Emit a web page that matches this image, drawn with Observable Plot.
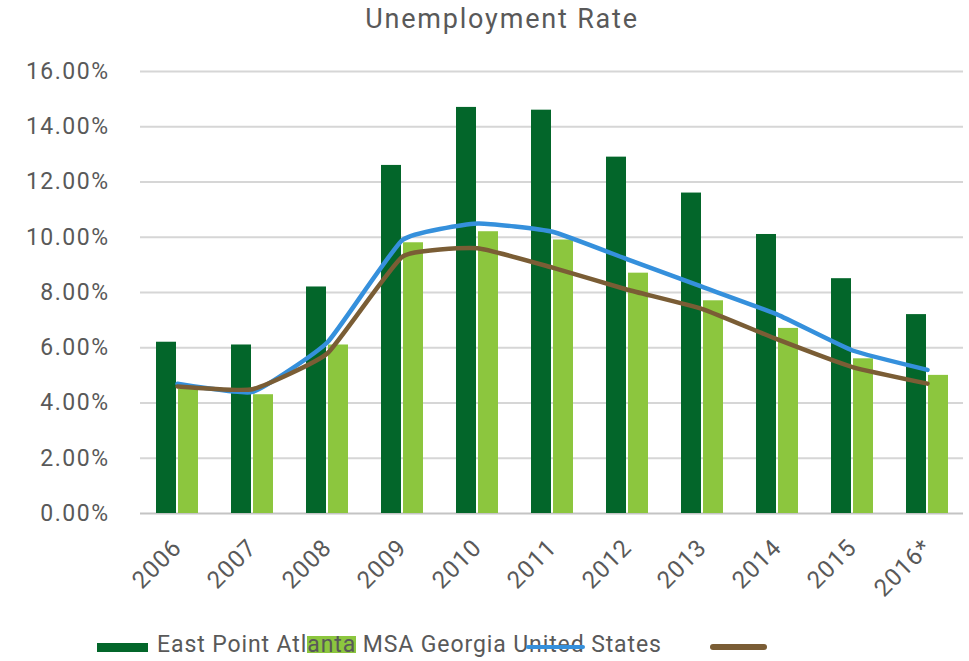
<!DOCTYPE html>
<html>
<head>
<meta charset="utf-8">
<script src="https://cdn.jsdelivr.net/npm/d3@7"></script>
<script src="https://cdn.jsdelivr.net/npm/@observablehq/plot@0.6"></script>
<style>
  html, body { margin: 0; padding: 0; background: #fff; }
  body { width: 969px; height: 661px; position: relative; overflow: hidden; font-family: Roboto, "Liberation Sans", sans-serif; color: #595959; }
  #title { position: absolute; top: 3px; left: 502px; transform: translateX(-50%); font-size: 27px; letter-spacing: 1.8px; white-space: nowrap; }
  #chart { position: absolute; top: 50px; left: 0; }
  #legend { position: absolute; left: 0; top: 0; width: 969px; height: 661px; pointer-events: none; }
  .sw { position: absolute; }
  #legtext { position: absolute; left: 157px; top: 631px; font-size: 23px; letter-spacing: 0.9px; white-space: nowrap; line-height: 28px; }
  .hl { background: linear-gradient(to bottom, transparent 20%, #8cc63e 20%, #8cc63e 82%, transparent 82%); }
  .ln { position: relative; }
  .ln i { position: absolute; left: -3px; right: 0; top: 14px; height: 4px; background: #3590dc; border-radius: 2px; }
</style>
</head>
<body>
<div id="title">Unemployment Rate</div>
<div id="chart"></div>
<div id="legend">
  <div class="sw" style="left:97px;top:643px;width:51px;height:9px;background:#03662a"></div>
  <div id="legtext">East Point Atl<span class="hl">anta</span> MSA Georgia U<span class="ln">nited<i></i></span> States</div>
  <div class="sw" style="left:710px;top:644px;width:57px;height:6px;background:#7a5d35;border-radius:3px"></div>
</div>
<script>
const years = ["2006", "2007", "2008", "2009", "2010", "2011", "2012", "2013", "2014", "2015", "2016*"];
const eastPoint = [6.2, 6.1, 8.2, 12.6, 14.7, 14.6, 12.9, 11.6, 10.1, 8.5, 7.2];
const atlantaMSA = [4.5, 4.3, 6.1, 9.8, 10.2, 9.9, 8.7, 7.7, 6.7, 5.6, 5.0];
const georgia = [4.7, 4.4, 6.2, 9.9, 10.5, 10.2, 9.2, 8.2, 7.2, 5.9, 5.2];
const unitedStates = [4.6, 4.5, 5.8, 9.3, 9.6, 8.9, 8.1, 7.4, 6.3, 5.3, 4.7];
const yTicks = [0, 2, 4, 6, 8, 10, 12, 14, 16];

const rows = (vals) => years.map((year, i) => ({year, value: vals[i]}));
const fmt = d => d.toFixed(2) + "%";

const plot = Plot.plot({
  width: 969,
  height: 560,
  marginTop: 21,
  marginBottom: 97,
  marginLeft: 140,
  marginRight: 6,
  style: {color: "#595959", fontFamily: "Roboto, 'Liberation Sans', sans-serif", background: "#fff"},
  x: {domain: years, paddingInner: 0.734, paddingOuter: 0.335, axis: null},
  y: {domain: [0, 16], axis: null},
  marks: [
    Plot.ruleY(yTicks.slice(1), {stroke: "#d6d6d6", strokeWidth: 2}),
    Plot.ruleY([0], {stroke: "#c4c4c4", strokeWidth: 2}),
    Plot.barY(rows(eastPoint), {x: "year", y: "value", fill: "#03662a", dx: -11}),
    Plot.barY(rows(atlantaMSA), {x: "year", y: "value", fill: "#8cc63e", dx: 11}),
    Plot.line(rows(georgia), {x: "year", y: "value", stroke: "#3590dc", strokeWidth: 4.5, curve: "cardinal", tension: 0.6}),
    Plot.line(rows(unitedStates), {x: "year", y: "value", stroke: "#7a5d35", strokeWidth: 4.5, curve: "cardinal", tension: 0.6}),
    Plot.axisY({ticks: yTicks, tickFormat: fmt, tickSize: 0, tickPadding: 31, fontSize: 23, label: null}),
    Plot.axisX({tickSize: 0, tickRotate: -45, tickPadding: 30, fontSize: 24, label: null})
  ]
});
document.getElementById("chart").appendChild(plot);
d3.select(plot).selectAll("[aria-label='y-axis tick label'] text")
  .style("letter-spacing", d => d === 16 ? "-0.4px" : "1.5px");
d3.select(plot).selectAll("[aria-label='x-axis tick label'] text").style("letter-spacing", "1px");
</script>
</body>
</html>
